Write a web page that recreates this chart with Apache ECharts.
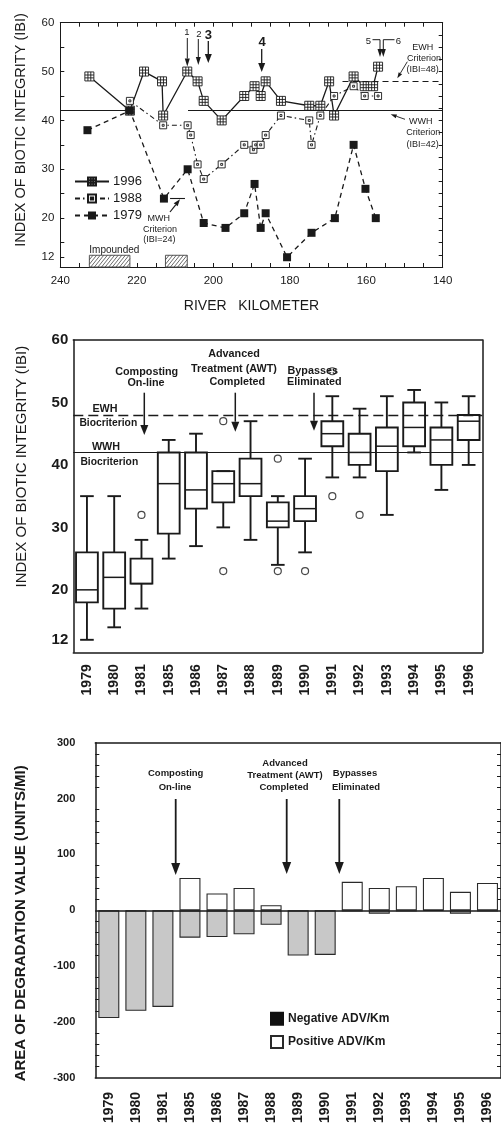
<!DOCTYPE html>
<html><head><meta charset="utf-8">
<script src="https://cdn.jsdelivr.net/npm/echarts@6/dist/echarts.min.js"></script>
<style>html,body{margin:0;padding:0;background:#fff}#c{width:501px;height:1126px}</style>
</head><body><div id="c"></div>
<script>
// ---------- Panel 1: IBI by river kilometer ----------
const km1996 = [232.4,221.8,218.1,213.4,213.1,206.8,204.1,202.5,197.8,191.9,189.2,187.6,186.3,182.3,174.9,172.0,169.7,168.4,163.3,160.4,158.2,156.9];
const ibi1996 = [49,42,50,48,41,50,48,44,40,45,47,45,48,44,43,43,48,41,49,47,47,51];
const km1988 = [221.8,213.1,206.7,205.9,204.1,202.5,197.8,191.9,189.5,188.9,187.6,186.3,182.3,174.9,174.3,172.0,168.4,163.3,160.4,156.9];
const ibi1988 = [44,39,39,37,31,28,31,35,34,35,35,37,41,40,35,41,45,47,45,45];
const km1979 = [232.9,221.8,212.9,206.7,202.5,196.8,191.9,189.2,187.6,186.3,180.7,174.3,168.2,163.3,160.2,157.5];
const ibi1979 = [38,42,24,30,19,18,21,27,18,21,12,17,20,35,26,20];
const impounded = [[232.4,221.8],[212.5,206.8]];
const impoundTop = 12.4;
const p1YLabels = [12,20,30,40,50,60];
const p1YTicks = [12,15,20,25,30,35,40,45,50,55,60];

// ---------- Panel 2: IBI box plots by year ----------
const years = ['1979','1980','1981','1985','1986','1987','1988','1989','1990','1991','1992','1993','1994','1995','1996'];
const boxLow  = [12,14,17,25,27,30,28,24,26,38,38,32,42,36,40];
const boxQ1   = [18,17,21,29,33,34,35,30,31,43,40,39,43,40,44];
const boxMed  = [20,22,21,37,36,37,37,31,33,45,42,43,46,44,47];
const boxQ3   = [26,26,25,42,42,39,41,34,35,47,45,46,50,46,48];
const boxHigh = [35,35,28,44,45,39,47,35,41,51,49,51,52,50,51];
const outYear = ['1981','1987','1987','1989','1989','1990','1991','1991','1992'];
const outVal  = [32,47,23,41,23,23,35,55,32];
const p2YLabels = [12,20,30,40,50,60];

// ---------- Panel 3: Area of degradation value ----------
const advNeg = [-193,-180,-173,-49,-48,-43,-26,-81,-80,-2,-6,-2,-1,-6,-2];
const advPos = [null,null,null,58,30,40,9,null,null,51,40,43,58,33,49];

const FONT = '"Liberation Sans", Arial, Helvetica, sans-serif';
const INK = '#1a1a1a';
const chart = echarts.init(document.getElementById('c'));

function arrow(x1,y1,x2,y2,hl,hw,lw){
  const a = Math.atan2(y2-y1,x2-x1);
  const bx = x2-hl*Math.cos(a), by = y2-hl*Math.sin(a);
  const px = -Math.sin(a)*hw/2, py = Math.cos(a)*hw/2;
  return [
    {type:'line', silent:true, shape:{x1:x1,y1:y1,x2:bx,y2:by}, style:{stroke:INK,lineWidth:lw||1.2}},
    {type:'polygon', silent:true, shape:{points:[[x2,y2],[bx+px,by+py],[bx-px,by-py]]}, style:{fill:INK}}
  ];
}
function txt(x,y,s,size,weight,rot){
  return {type:'text', silent:true, x:x, y:y, rotation:rot||0,
    style:{text:s, fontFamily:FONT, fontSize:size, fontWeight:weight||'normal', fill:INK, align:'center', verticalAlign:'middle'}};
}
function axisBase(w){ return {axisLine:{show:true,onZero:false,lineStyle:{color:INK,width:w}}, splitLine:{show:false}}; }

const grids = [
  {left:60.3, top:22.7, width:382.4, height:244.3},
  {left:73.3, top:340, width:409, height:312.3},
  {left:95.3, top:742.7, width:409.3, height:336.6}
];

const xAxes = [
  Object.assign(axisBase(1), {gridIndex:0, type:'value', min:140, max:240, interval:5, inverse:true, position:'bottom',
    axisTick:{inside:true,length:4,lineStyle:{color:INK}},
    axisLabel:{formatter:v => (v%20===0 ? String(v) : ''), fontFamily:FONT, fontSize:11.5, color:INK, margin:8}}),
  Object.assign(axisBase(1), {gridIndex:0, type:'value', min:140, max:240, interval:5, inverse:true, position:'top',
    axisTick:{inside:true,length:4,lineStyle:{color:INK}}, axisLabel:{show:false}}),
  Object.assign(axisBase(1.5), {gridIndex:1, type:'category', data:years, position:'bottom',
    axisTick:{inside:true,length:5,lineStyle:{color:INK,width:1.3}},
    axisLabel:{rotate:90, interval:0, fontFamily:FONT, fontSize:14, fontWeight:'bold', color:INK, margin:12}}),
  Object.assign(axisBase(1.5), {gridIndex:1, type:'category', data:years, position:'top',
    axisTick:{inside:true,length:5,lineStyle:{color:INK,width:1.3}}, axisLabel:{show:false}}),
  Object.assign(axisBase(1.5), {gridIndex:2, type:'category', data:years, position:'bottom',
    axisTick:{inside:true,length:6,lineStyle:{color:INK,width:1.3}},
    axisLabel:{rotate:90, interval:0, fontFamily:FONT, fontSize:14, fontWeight:'bold', color:INK, margin:14}}),
  Object.assign(axisBase(1.5), {gridIndex:2, type:'category', data:years, position:'top',
    axisTick:{inside:true,length:6,lineStyle:{color:INK,width:1.3}}, axisLabel:{show:false}})
];

const yAxes = [
  Object.assign(axisBase(1), {gridIndex:0, type:'value', min:10, max:60, position:'left',
    axisTick:{inside:true,length:4,customValues:p1YTicks,lineStyle:{color:INK}},
    axisLabel:{customValues:p1YLabels, fontFamily:FONT, fontSize:11.5, color:INK, margin:6}}),
  Object.assign(axisBase(1), {gridIndex:0, type:'value', min:10, max:60, interval:2.5, position:'right',
    axisTick:{inside:true,length:4,lineStyle:{color:INK}}, axisLabel:{show:false}}),
  Object.assign(axisBase(1.5), {gridIndex:1, type:'value', min:10, max:60, interval:2, position:'left',
    axisTick:{inside:true,length:5,lineStyle:{color:INK,width:1.2}},
    axisLabel:{formatter:v => (p2YLabels.indexOf(v)>=0 ? String(v) : ''), fontFamily:FONT, fontSize:15, fontWeight:'bold', color:INK, margin:5}}),
  Object.assign(axisBase(1.5), {gridIndex:1, type:'value', min:10, max:60, interval:2, position:'right',
    axisTick:{inside:true,length:5,lineStyle:{color:INK,width:1.2}}, axisLabel:{show:false}}),
  Object.assign(axisBase(1.5), {gridIndex:2, type:'value', min:-300, max:300, interval:100, position:'left',
    axisTick:{inside:true,length:6,lineStyle:{color:INK,width:1.2}},
    minorTick:{show:true,splitNumber:5,length:4,lineStyle:{color:INK,width:1}},
    axisLabel:{fontFamily:FONT, fontSize:11, fontWeight:'bold', color:INK, margin:20}}),
  Object.assign(axisBase(1.5), {gridIndex:2, type:'value', min:-300, max:300, interval:100, position:'right',
    axisTick:{inside:true,length:6,lineStyle:{color:INK,width:1.2}},
    minorTick:{show:true,splitNumber:5,length:4,lineStyle:{color:INK,width:1}}, axisLabel:{show:false}})
];

const sym1996 = 'path://M0,0H10V10H0Z M3.4,0V10 M6.6,0V10 M0,3.4H10 M0,6.6H10';
const sym1988 = 'path://M0,0H10V10H0Z M3.6,3.6H6.4V6.4H3.6Z';

const series = [
  {name:'1996', type:'line', xAxisIndex:0, yAxisIndex:0, z:3,
    data: km1996.map((k,i)=>[k, ibi1996[i]]),
    symbol: sym1996, symbolSize: 9, showAllSymbol:true,
    lineStyle:{color:INK, width:1.3, type:'solid'},
    itemStyle:{color:'#fff', borderColor:INK, borderWidth:0.9},
    markLine:{silent:true, symbol:'none', label:{show:false}, lineStyle:{color:INK, width:1.1, type:'solid'},
      data:[
        [{coord:[240,42]},{coord:[221.3,42]}],
        [{coord:[206.6,42]},{coord:[140,42]}],
        [{coord:[211.3,24]},{coord:[207.4,24]}]
      ]}
  },
  {name:'1988', type:'line', xAxisIndex:0, yAxisIndex:0, z:4,
    data: km1988.map((k,i)=>[k, ibi1988[i]]),
    symbol: sym1988, symbolSize: 7, showAllSymbol:true,
    lineStyle:{color:INK, width:1.1, type:[5,3,1.5,3]},
    itemStyle:{color:'#fff', borderColor:INK, borderWidth:0.9},
    markLine:{silent:true, symbol:'none', label:{show:false}, lineStyle:{color:INK, width:1.1, type:[6,4]},
      data:[[{coord:[166.2,48]},{coord:[140,48]}]]}
  },
  {name:'1979', type:'line', xAxisIndex:0, yAxisIndex:0, z:5,
    data: km1979.map((k,i)=>[k, ibi1979[i]]),
    symbol:'rect', symbolSize:8, showAllSymbol:true,
    lineStyle:{color:INK, width:1.3, type:[5,4]},
    itemStyle:{color:INK, borderColor:INK, borderWidth:0}
  },
  {name:'Impounded', type:'custom', xAxisIndex:0, yAxisIndex:0, z:2, silent:true,
    data: impounded, encode:{x:[0,1]},
    renderItem: function(params, api){
      const a = api.coord([api.value(0), impoundTop]);
      const b = api.coord([api.value(1), 10]);
      const x0 = Math.min(a[0],b[0]), x1 = Math.max(a[0],b[0]);
      const y0 = a[1], y1 = b[1], h = y1 - y0;
      const ch = [{type:'rect', shape:{x:x0,y:y0,width:x1-x0,height:h}, style:{fill:'#fff', stroke:'#555', lineWidth:1}}];
      const step = 3.6, k = 0.8;
      for (let c = x0 - h*k; c < x1; c += step) {
        let sx = c, sy = y1, ex = c + h*k, ey = y0;
        if (sx < x0) { sy = y1 - (x0 - sx)/k; sx = x0; }
        if (ex > x1) { ey = y0 + (ex - x1)/k; ex = x1; }
        if (ex - sx > 0.2) ch.push({type:'line', shape:{x1:sx,y1:sy,x2:ex,y2:ey}, style:{stroke:'#444', lineWidth:0.8}});
      }
      return {type:'group', children:ch};
    }
  },
  {name:'IBI boxes', type:'custom', xAxisIndex:2, yAxisIndex:2, z:3,
    data: years.map((y,i)=>[i, boxLow[i], boxQ1[i], boxMed[i], boxQ3[i], boxHigh[i]]),
    encode:{x:0, y:[1,2,3,4,5]},
    renderItem: function(params, api){
      const i = api.value(0);
      const cx = api.coord([i, 30])[0];
      const w = api.size([1, 0])[0];
      const bh = w*0.4, ch = w*0.25;
      const Y = k => api.coord([i, api.value(k)])[1];
      const yl = Y(1), yq1 = Y(2), ym = Y(3), yq3 = Y(4), yh = Y(5);
      const st = {stroke:INK, lineWidth:1.9};
      return {type:'group', children:[
        {type:'line', shape:{x1:cx,y1:yq1,x2:cx,y2:yl}, style:st},
        {type:'line', shape:{x1:cx,y1:yq3,x2:cx,y2:yh}, style:st},
        {type:'line', shape:{x1:cx-ch,y1:yl,x2:cx+ch,y2:yl}, style:st},
        {type:'line', shape:{x1:cx-ch,y1:yh,x2:cx+ch,y2:yh}, style:st},
        {type:'rect', shape:{x:cx-bh,y:yq3,width:2*bh,height:yq1-yq3}, style:{stroke:INK,lineWidth:1.9,fill:'rgba(0,0,0,0)'}},
        {type:'line', shape:{x1:cx-bh,y1:ym,x2:cx+bh,y2:ym}, style:{stroke:INK,lineWidth:1.5}}
      ]};
    }
  },
  {name:'Outliers', type:'scatter', xAxisIndex:2, yAxisIndex:2, z:6,
    data: outYear.map((y,i)=>[y, outVal[i]]),
    symbol:'circle', symbolSize:7,
    itemStyle:{color:'rgba(255,255,255,0)', borderColor:INK, borderWidth:1.2},
    markLine:{silent:true, symbol:'none', label:{show:false},
      data:[
        {yAxis:48, lineStyle:{color:INK, width:1.3, type:[10,5]}},
        {yAxis:42, lineStyle:{color:INK, width:1.1, type:'solid'}}
      ]}
  },
  {name:'Negative ADV/Km', type:'bar', xAxisIndex:4, yAxisIndex:4, z:2,
    data: advNeg, barWidth:21, barGap:'-100%',
    itemStyle:{color:'#c8c8c8', borderColor:'#2a2a2a', borderWidth:1.1},
    markLine:{silent:true, symbol:'none', label:{show:false}, z:10,
      data:[{yAxis:0, lineStyle:{color:INK, width:1.5, type:'solid'}}]}
  },
  {name:'Positive ADV/Km', type:'bar', xAxisIndex:4, yAxisIndex:4, z:2,
    data: advPos, barWidth:21, barGap:'-100%',
    itemStyle:{color:'#ffffff', borderColor:'#2a2a2a', borderWidth:1.1}
  }
];

const legends = [
  {data:['1996','1988','1979'], orient:'vertical', left:74, top:175, padding:0,
    itemWidth:34, itemHeight:10, itemGap:4, selectedMode:false,
    textStyle:{fontFamily:FONT, fontSize:13, color:INK, padding:[0,0,0,-1]}},
  {data:[{name:'Negative ADV/Km', itemStyle:{color:'#111', borderColor:'#111'}}, {name:'Positive ADV/Km'}],
    orient:'vertical', left:270, top:1011.7, padding:0, icon:'rect',
    itemWidth:12, itemHeight:12, itemGap:9.3, selectedMode:false,
    textStyle:{fontFamily:FONT, fontSize:12, fontWeight:'bold', color:INK}}
];

let g = [];
// axis titles
g.push(txt(21, 130, 'INDEX OF BIOTIC INTEGRITY (IBI)', 14.5, 'normal', Math.PI/2));
g.push(txt(251.5, 306, 'RIVER   KILOMETER', 14));
g.push(txt(22, 466.7, 'INDEX OF BIOTIC INTEGRITY (IBI)', 15, 'normal', Math.PI/2));
g.push(txt(20.7, 923.3, 'AREA OF DEGRADATION VALUE (UNITS/MI)', 15, 'bold', Math.PI/2));

// panel 1 annotations
g.push(txt(187, 32.5, '1', 9.5), txt(198.8, 34, '2', 9.5), txt(208.3, 35, '3', 13, 'bold'));
g = g.concat(arrow(187.3, 38, 187.3, 66.5, 8, 5, 1), arrow(198.3, 39, 198.3, 65, 8, 5, 1), arrow(208.3, 41, 208.3, 63, 9, 7, 1.3));
g.push(txt(262, 42.5, '4', 13, 'bold'));
g = g.concat(arrow(261.7, 49, 261.7, 72, 9, 7, 1.3));
g.push(txt(368.3, 41, '5', 9.5), txt(398.3, 41, '6', 9.5));
g.push({type:'polyline', silent:true, shape:{points:[[372.5,39.7],[380,39.7]]}, style:{stroke:INK,lineWidth:1,fill:null}});
g.push({type:'polyline', silent:true, shape:{points:[[383.3,39.7],[394.5,39.7]]}, style:{stroke:INK,lineWidth:1,fill:null}});
g = g.concat(arrow(380, 39.7, 380, 57, 8, 5, 1), arrow(383.3, 39.7, 383.3, 57, 8, 5, 1));
g.push(txt(422.7, 47.3, 'EWH', 9), txt(424, 58.3, 'Criterion', 9), txt(422.7, 70, '(IBI=48)', 9));
g = g.concat(arrow(407.3, 61.7, 397.3, 78.3, 6, 4, 0.9));
g.push(txt(420.7, 121.7, 'WWH', 9), txt(423.3, 132.7, 'Criterion', 9), txt(422.7, 144.3, '(IBI=42)', 9));
g = g.concat(arrow(405, 119.3, 390.7, 114.3, 6, 4, 0.9));
g.push(txt(158.7, 218.3, 'MWH', 9), txt(160, 229.3, 'Criterion', 9), txt(159.3, 240, '(IBI=24)', 9));
g = g.concat(arrow(170, 212, 180, 199.3, 7, 5, 1.2));
g.push(txt(114.3, 250, 'Impounded', 10));

// panel 2 annotations
g.push(txt(146.7, 371.7, 'Composting', 10.8, 'bold'), txt(146, 382.7, 'On-line', 10.8, 'bold'));
g.push(txt(234, 354.3, 'Advanced', 10.8, 'bold'), txt(234, 368.7, 'Treatment (AWT)', 10.8, 'bold'), txt(237.3, 382.3, 'Completed', 10.8, 'bold'));
g.push(txt(312.7, 370.7, 'Bypasses', 10.8, 'bold'), txt(314.3, 382.3, 'Eliminated', 10.8, 'bold'));
g.push(txt(105, 409.3, 'EWH', 10.8, 'bold'), txt(108.3, 423.3, 'Biocriterion', 10.3, 'bold'));
g.push(txt(106, 447.3, 'WWH', 10.8, 'bold'), txt(109.3, 462.3, 'Biocriterion', 10.3, 'bold'));
g = g.concat(arrow(144.3, 392.7, 144.3, 435, 10, 8, 1.5), arrow(235.3, 392.7, 235.3, 431.7, 10, 8, 1.5), arrow(314, 392.7, 314, 430.7, 10, 8, 1.5));

// panel 3 annotations
g.push(txt(175.7, 773, 'Composting', 9.5, 'bold'), txt(175, 787.7, 'On-line', 9.5, 'bold'));
g.push(txt(285, 763.3, 'Advanced', 9.5, 'bold'), txt(285, 775.7, 'Treatment (AWT)', 9.5, 'bold'), txt(284, 787.7, 'Completed', 9.5, 'bold'));
g.push(txt(355, 773, 'Bypasses', 9.5, 'bold'), txt(356, 787.7, 'Eliminated', 9.5, 'bold'));
g = g.concat(arrow(175.7, 799, 175.7, 875, 12, 9, 1.8), arrow(286.7, 799, 286.7, 874, 12, 9, 1.8), arrow(339.3, 799, 339.3, 874, 12, 9, 1.8));

chart.setOption({
  animation:false,
  backgroundColor:'#fff',
  textStyle:{fontFamily:FONT},
  grid: grids, xAxis: xAxes, yAxis: yAxes, series: series, legend: legends,
  graphic: {elements: g}
});
</script></body></html>
